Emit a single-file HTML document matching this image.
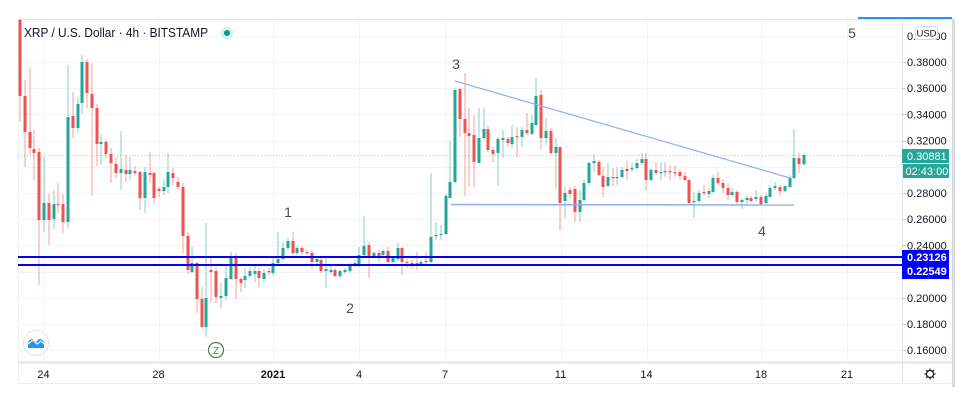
<!DOCTYPE html>
<html><head><meta charset="utf-8"><style>
html,body{margin:0;padding:0;background:#fff;}
svg{display:block;font-family:"Liberation Sans",sans-serif;}
</style></head><body>
<svg id="c" width="967" height="401" viewBox="0 0 967 401" xmlns="http://www.w3.org/2000/svg">
<rect x="0" y="0" width="967" height="401" fill="#fff"/>
<g id="grid" stroke="#f0f3fa" stroke-width="1"></g>
<g id="frame"></g>
<g id="candles"></g>
<g id="over"></g>
</svg>
<script>
var NS="http://www.w3.org/2000/svg";
function el(parent,tag,attrs,text){var e=document.createElementNS(NS,tag);for(var k in attrs)e.setAttribute(k,attrs[k]);if(text!==undefined)e.textContent=text;parent.appendChild(e);return e;}
var svg=document.getElementById('c');
var grid=document.getElementById('grid'),frame=document.getElementById('frame'),cg=document.getElementById('candles'),ov=document.getElementById('over');
function py(p){return 62+(0.38-p)*1310;}
// horizontal grid
var prices=[0.40,0.38,0.36,0.34,0.32,0.30,0.28,0.26,0.24,0.22,0.20,0.18,0.16];
prices.forEach(function(p){var y=Math.round(py(p))+0.5;el(grid,'line',{x1:18,y1:y,x2:902,y2:y});});
// vertical grid
var days=[[43.5,'24',0],[158.5,'28',0],[273,'2021',1],[359,'4',0],[445,'7',0],[560.5,'11',0],[646.5,'14',0],[761,'18',0],[847,'21',0]];
days.forEach(function(d){var x=Math.round(d[0])+0.5;el(grid,'line',{x1:x,y1:19,x2:x,y2:362});});
// frame
el(frame,'line',{x1:18,y1:19.5,x2:953,y2:19.5,stroke:'#e0e3eb'});
el(frame,'line',{x1:18.5,y1:19,x2:18.5,y2:383,stroke:'#eef0f4'});
el(frame,'line',{x1:902.5,y1:19,x2:902.5,y2:383,stroke:'#e0e3eb'});
el(frame,'line',{x1:18,y1:362.5,x2:953,y2:362.5,stroke:'#e0e3eb','stroke-width':2});
el(frame,'line',{x1:18,y1:383.5,x2:953,y2:383.5,stroke:'#eceef2'});
el(frame,'rect',{x:952,y:19,width:3,height:368,fill:'#d8dbe2'});
el(frame,'rect',{x:858,y:17,width:94,height:2,fill:'#2196f3'});
// current price dotted line
el(frame,'line',{x1:18,y1:155.5,x2:902,y2:155.5,stroke:'#26a69a','stroke-opacity':0.45,'stroke-dasharray':'1,2'});
// candles [x,o,h,l,c]
var D=[
[20,20,19,122,96],[25,96,80,167,132],[30,132,68,155,148],[34,149,130,180,153],[39,152,148,285,220],[44,220,157,232,203],[49,203,194,245,220],[54,219,190,229,204],[58,204,183,213,205],[63,204,194,233,222],
[68,222,65,228,117],[73,116,92,138,128],[78,128,97,133,104],[82,103,55,114,62],[87,62,59,108,93],[92,94,63,196,108],[97,108,104,166,144],[101,144,135,165,142],[106,142,140,158,154],[111,154,148,183,163],
[116,164,157,178,173],[121,173,131,190,169],[126,170,155,182,174],[130,174,157,180,170],[135,171,166,175,173],[140,172,171,210,198],[145,198,167,213,172],[150,173,152,183,175],[154,173,172,204,198],[159,189,187,197,191],
[164,191,179,195,187],[168,187,153,193,172],[173,173,168,185,178],[178,182,177,190,187],[183,187,183,253,236],[188,236,232,274,270],[192,272,247,273,263],[197,263,262,313,299],[202,299,287,328,327],[206,327,223,337,298],
[211,270,258,302,272],[216,271,267,303,297],[221,298,283,308,296],[226,296,265,300,278],[231,279,252,280,257],[236,257,253,299,279],[241,279,277,292,283],[245,280,268,288,276],[250,276,267,278,271],[255,274,266,282,271],
[259,271,268,288,278],[264,279,269,283,273],[269,271,268,275,272],[273,273,258,275,263],[278,263,232,265,259],[283,259,242,260,248],[288,248,238,250,241],[293,241,232,255,253],[297,253,246,255,248],[302,248,246,255,252],
[307,252,250,255,253],[312,253,250,268,262],[317,262,257,264,259],[321,260,258,273,271],[326,271,258,288,269],[331,272,266,274,270],[335,270,268,277,276],[340,276,270,278,271],[345,272,268,274,270],[350,271,263,273,265],
[355,265,260,267,263],[359,265,247,267,255],[364,255,216,257,246],[369,245,242,278,257],[374,257,252,258,253],[379,253,250,262,257],[383,255,249,257,251],[388,251,247,263,262],[393,262,256,263,258],[398,259,243,261,248],
[402,248,247,275,262],[407,262,259,268,263],[412,263,260,269,264],[417,263,252,270,264],[421,264,260,265,262],[426,261,252,266,262],[431,262,173,263,237],
[436,236,222,240,235],[441,235,225,240,234],[446,234,194,235,196],[450,198,141,198,182],[455,182,88,183,90],[460,89,88,137,119],[465,119,73,196,133],[469,133,108,187,136],[474,135,115,187,162],[479,163,108,163,138],
[484,138,108,140,129],[488,129,125,152,150],[493,150,147,162,154],[498,153,137,186,139],[503,140,130,158,138],[508,139,137,147,143],[512,144,125,148,137],[517,136,127,157,137],[522,137,127,147,130],[527,130,113,135,133],
[532,134,115,135,123],[536,125,77,126,96],[541,95,90,149,138],[546,138,118,145,131],[551,131,128,154,153],[556,153,138,189,147],[560,147,147,230,203],[565,201,187,218,193],[570,190,187,198,194],[575,189,186,222,212],
[580,212,190,222,200],[584,200,180,202,183],[589,183,162,185,163],[594,163,154,172,161],[599,162,160,176,175],[603,176,167,197,187],[608,186,163,187,177],[613,177,168,186,178],[617,178,167,185,177],[622,177,167,178,170],
[627,169,161,180,171],[632,169,163,172,168],[637,168,159,170,163],[642,163,153,165,159],[646,159,153,190,180],[651,180,168,181,170],[656,170,162,174,173],[661,173,162,180,172],[665,171,162,177,172],[670,171,165,180,172],
[675,172,165,177,173],[680,172,170,180,176],[685,176,172,181,180],[689,180,179,204,203],[694,202,192,218,201],[699,201,190,203,193],[704,192,185,195,193],[709,194,188,198,191],[713,192,175,193,178],[718,178,172,185,183],
[723,183,180,193,188],[728,188,183,200,195],[732,195,188,196,192],[737,192,190,204,202],[742,202,198,209,200],[747,200,195,204,198],[751,198,196,202,201],[756,199,190,201,197],[761,197,195,205,204],[766,203,193,204,196],
[770,197,185,197,188],[775,188,182,190,186],[780,187,185,196,191],[785,191,186,192,186],[790,187,175,188,178],[794,178,129,179,158],[799,158,153,173,164],[804,164,153,166,155]
];
D.forEach(function(c){
  var x=c[0],o=c[1],h=c[2],l=c[3],cl=c[4];
  var up=cl<o;var col=up?'#26a69a':'#ef5350';
  el(cg,'line',{x1:x,y1:h,x2:x,y2:l,stroke:col,'stroke-width':1,'stroke-opacity':0.55});
  var top=Math.min(o,cl),ht=Math.max(1.2,Math.abs(o-cl));
  el(cg,'rect',{x:x-1.5,y:top,width:3,height:ht,fill:col});
});
// trend lines
el(ov,'line',{x1:455,y1:81,x2:790,y2:178,stroke:'#8fb0ee','stroke-width':1.2});
el(ov,'line',{x1:451,y1:204.5,x2:794,y2:205,stroke:'#8fb0ee','stroke-width':1.5});
// blue support lines
el(ov,'line',{x1:18,y1:257,x2:902,y2:257,stroke:'#0000ff','stroke-width':2});
el(ov,'line',{x1:18,y1:265,x2:902,y2:265,stroke:'#0000ff','stroke-width':2});
// wave labels
[[288,217,'1'],[350,313,'2'],[456,69,'3'],[762,236,'4'],[852,38,'5']].forEach(function(t){el(ov,'text',{x:t[0],y:t[1],'font-size':14,fill:'#4a4a4a','text-anchor':'middle'},t[2]);});
// title
el(ov,'text',{x:24,y:37,'font-size':12.5,fill:'#131722',textLength:184,lengthAdjust:'spacingAndGlyphs'},'XRP / U.S. Dollar \u00b7 4h \u00b7 BITSTAMP');
el(ov,'circle',{cx:227,cy:33,r:6.5,fill:'#d9f1ed'});
el(ov,'circle',{cx:227,cy:33,r:3,fill:'#089981'});
// price axis labels
var pl=[[0.38,'0.38000'],[0.36,'0.36000'],[0.34,'0.34000'],[0.32,'0.32000'],[0.28,'0.28000'],[0.26,'0.26000'],[0.24,'0.24000'],[0.20,'0.20000'],[0.18,'0.18000'],[0.16,'0.16000']];
pl.forEach(function(p){var y=py(p[0]);el(ov,'text',{x:907,y:y+4,'font-size':11,fill:'#131722'},p[1]);el(ov,'line',{x1:902,y1:Math.round(y)+0.5,x2:906,y2:Math.round(y)+0.5,stroke:'#c8cbd2'});});
el(ov,'text',{x:907,y:40,'font-size':11,fill:'#131722'},'0.40000');
el(ov,'rect',{x:915.5,y:26.5,width:22,height:13,rx:3,fill:'#fff',stroke:'#d6d9e0'});
el(ov,'text',{x:926.5,y:36.5,'font-size':9.5,fill:'#131722','text-anchor':'middle'},'USD');
// current price labels
el(ov,'rect',{x:902,y:149,width:47,height:14,fill:'#26a69a'});
el(ov,'text',{x:907,y:160,'font-size':11,fill:'#fff'},'0.30881');
el(ov,'rect',{x:903,y:164,width:46,height:14,fill:'#26a69a'});
el(ov,'text',{x:905.5,y:175,'font-size':11,fill:'#fff'},'02:43:00');
// blue labels
el(ov,'rect',{x:902,y:250,width:47,height:29,fill:'#0000ff'});
el(ov,'text',{x:907,y:261,'font-size':11,'font-weight':'bold',fill:'#fff'},'0.23126');
el(ov,'text',{x:907,y:275,'font-size':11,'font-weight':'bold',fill:'#fff'},'0.22549');
// time axis labels
days.forEach(function(d){el(ov,'text',{x:d[0],y:378,'font-size':11,fill:'#131722','text-anchor':'middle','font-weight':d[2]?'bold':'normal'},d[1]);});
// gear
var g=el(ov,'g',{stroke:'#131722','stroke-width':1.2,fill:'none'});
el(g,'circle',{cx:930,cy:374,r:3.5});
for(var i=0;i<8;i++){var a=i*Math.PI/4;el(g,'line',{x1:930+Math.cos(a)*3.5,y1:374+Math.sin(a)*3.5,x2:930+Math.cos(a)*5.5,y2:374+Math.sin(a)*5.5});}
// TV logo
el(ov,'circle',{cx:36,cy:343,r:12.5,fill:'#fff',stroke:'#e0e3eb'});
el(ov,'path',{d:'M28 348 L28 344 Q28 339 33 339 L36 342 L39 339 Q44 339 44 344 L44 348 Z',fill:'#2196f3'});
el(ov,'path',{d:'M28 344 L33 340 L37 344 L41 341 L44 344',fill:'none',stroke:'#fff','stroke-width':1.2});
// Z marker
el(ov,'circle',{cx:216,cy:350,r:7.5,fill:'#fff',stroke:'#388e3c','stroke-width':1.2});
el(ov,'text',{x:216,y:354,'font-size':10,fill:'#388e3c','text-anchor':'middle'},'Z');
</script>
</body></html>
